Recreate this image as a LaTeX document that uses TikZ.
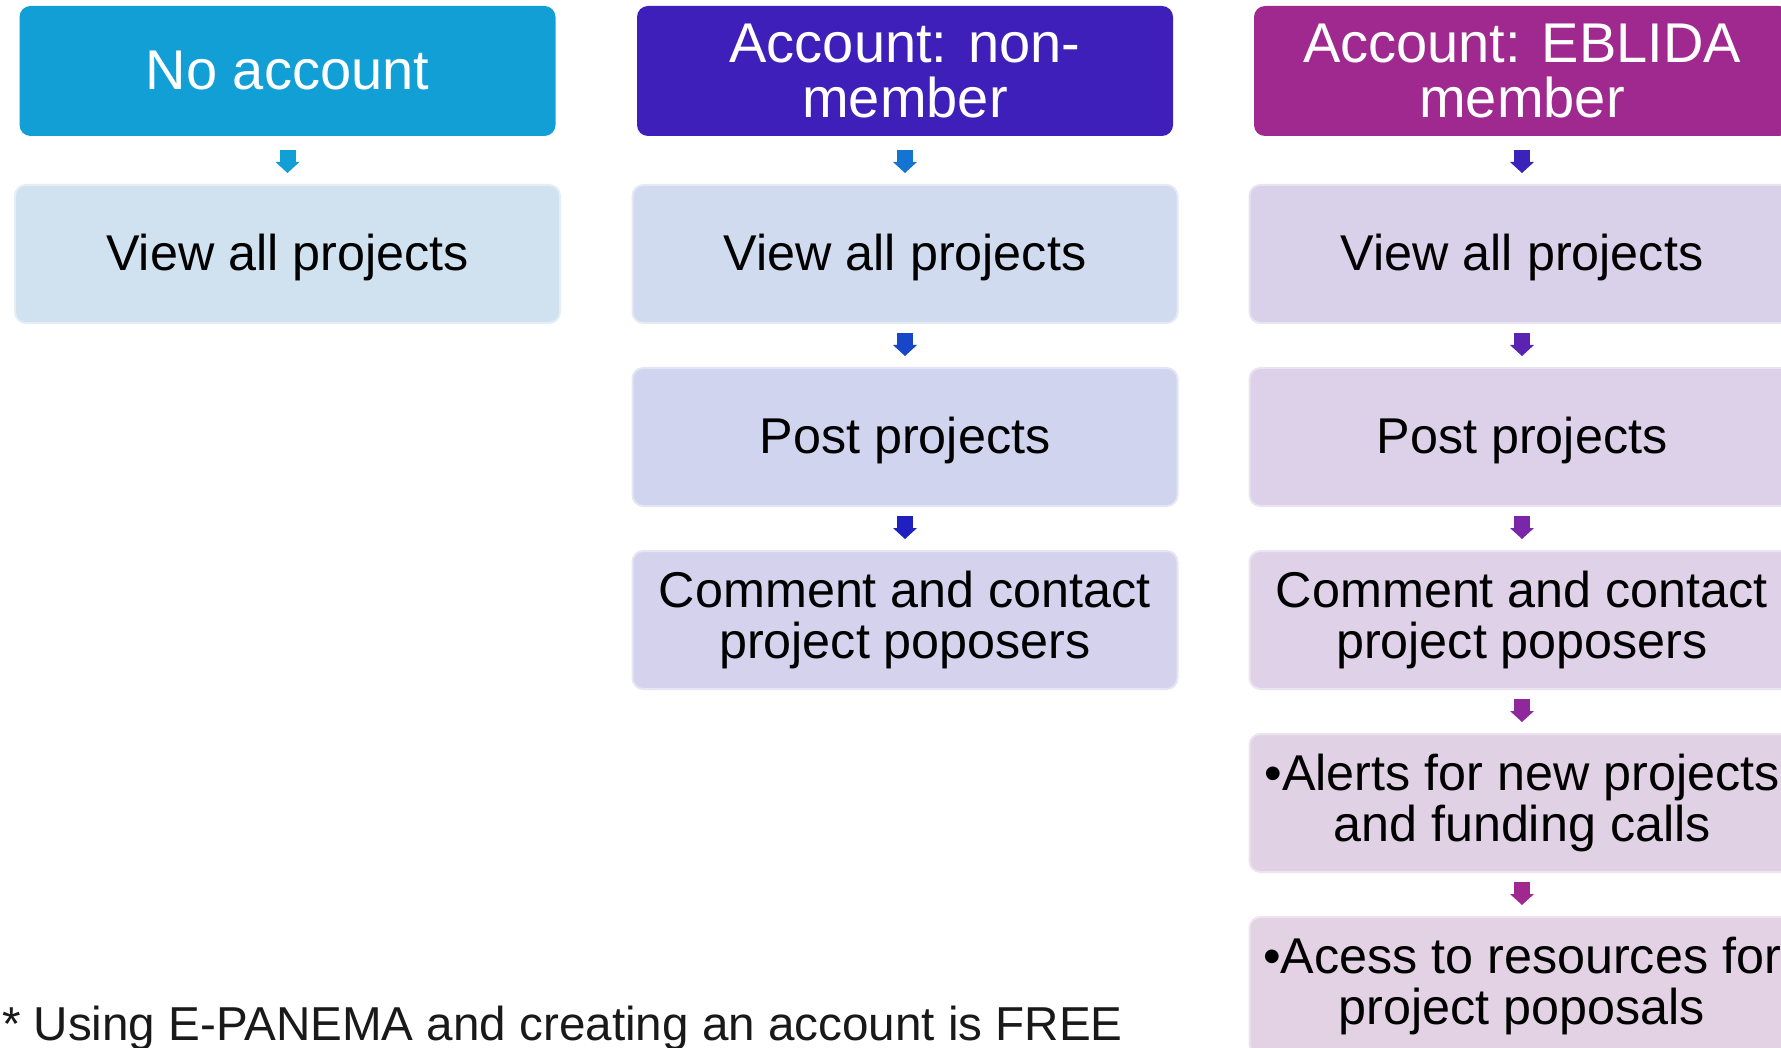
\documentclass[tikz,border=0pt]{standalone}
\usepackage{fontspec}
\setmainfont{Liberation Sans}
\usetikzlibrary{arrows.meta}
\definecolor{colAhead}{HTML}{119FD6}
\definecolor{colAbox}{HTML}{D0E2F0}
\definecolor{colBhead}{HTML}{3E1FB9}
\definecolor{colBboxA}{HTML}{D0DBEF}
\definecolor{colBboxB}{HTML}{D1D4EE}
\definecolor{colBboxC}{HTML}{D5D2EE}
\definecolor{colChead}{HTML}{A0298F}
\definecolor{colCboxA}{HTML}{D9D0EA}
\definecolor{colCboxB}{HTML}{DCD1E9}
\definecolor{colCboxC}{HTML}{DFD2E8}
\definecolor{colCboxD}{HTML}{E1D1E5}
\definecolor{colCboxE}{HTML}{E2D2E3}
\definecolor{arBA}{HTML}{1474D2}
\definecolor{arBB}{HTML}{1746C8}
\definecolor{arBC}{HTML}{1E20C0}
\definecolor{arCA}{HTML}{3A22BA}
\definecolor{arCB}{HTML}{5A23B2}
\definecolor{arCC}{HTML}{7A26A8}
\definecolor{arCD}{HTML}{8E289C}
\definecolor{arCE}{HTML}{A0298F}
\begin{document}
\begin{tikzpicture}[x=1pt,y=-1pt,
  hdr/.style={rectangle, rounded corners=11pt, minimum width=536pt, minimum height=130pt,
    inner sep=0pt, outer sep=0pt, text=white, align=center, font=\fontsize{56}{55}\selectfont},
  stepbox/.style={rectangle, rounded corners=11pt, minimum width=545pt, minimum height=138pt,
    inner sep=0pt, outer sep=0pt, text=black, align=center, line width=2pt,
    font=\fontsize{50.3}{51}\selectfont,
    execute at begin node={\rule{0pt}{44pt}}},
  barrow/.style={line width=16pt, -{Triangle[length=11pt,width=24pt,line width=0pt]}}
]
\useasboundingbox (0,0) rectangle (1781,1048);
\clip (0,0) rectangle (1781,1048);
\fill[white] (0,0) rectangle (1781,1048);

% column 1
\node[hdr, fill=colAhead] (hA) at (287.5,71) {No account};
\node[stepbox, fill=colAbox, draw=colAbox!60!white] (bA1) at (287.5,254) {View all projects};

% column 2
\node[hdr, fill=colBhead] (hB) at (905,71) {Account: non-\\member};
\node[stepbox, fill=colBboxA, draw=colBboxA!60!white] (bB1) at (905,254) {View all projects};
\node[stepbox, fill=colBboxB, draw=colBboxB!60!white] (bB2) at (905,437) {Post projects};
\node[stepbox, fill=colBboxC, draw=colBboxC!60!white] (bB3) at (905,620) {Comment and contact\\project poposers};

% column 3
\node[hdr, fill=colChead] (hC) at (1522,71) {Account: EBLIDA\\member};
\node[stepbox, fill=colCboxA, draw=colCboxA!60!white] (bC1) at (1522,254) {View all projects};
\node[stepbox, fill=colCboxB, draw=colCboxB!60!white] (bC2) at (1522,437) {Post projects};
\node[stepbox, fill=colCboxC, draw=colCboxC!60!white] (bC3) at (1522,620) {Comment and contact\\project poposers};
\node[stepbox, fill=colCboxD, draw=colCboxD!60!white] (bC4) at (1522,803) {•Alerts for new projects\\and funding calls};
\node[stepbox, fill=colCboxE, draw=colCboxE!60!white] (bC5) at (1522,986) {•Acess to resources for\\project poposals};

% arrows
\draw[barrow, colAhead] ([yshift=-14pt]hA.south) -- ([yshift=12pt]bA1.north);
\draw[barrow, arBA] ([yshift=-14pt]hB.south) -- ([yshift=12pt]bB1.north);
\draw[barrow, arBB] ([yshift=-10pt]bB1.south) -- ([yshift=12pt]bB2.north);
\draw[barrow, arBC] ([yshift=-10pt]bB2.south) -- ([yshift=12pt]bB3.north);
\draw[barrow, arCA] ([yshift=-14pt]hC.south) -- ([yshift=12pt]bC1.north);
\draw[barrow, arCB] ([yshift=-10pt]bC1.south) -- ([yshift=12pt]bC2.north);
\draw[barrow, arCC] ([yshift=-10pt]bC2.south) -- ([yshift=12pt]bC3.north);
\draw[barrow, arCD] ([yshift=-10pt]bC3.south) -- ([yshift=12pt]bC4.north);
\draw[barrow, arCE] ([yshift=-10pt]bC4.south) -- ([yshift=12pt]bC5.north);

% footnote
\node[anchor=base west, inner sep=0pt, outer sep=0pt, text=black!90,
  font=\fontsize{47.6}{50}\selectfont] (foot) at (2,1040)
  {* Using E-PANEMA and creating an account is FREE};
\end{tikzpicture}
\end{document}
